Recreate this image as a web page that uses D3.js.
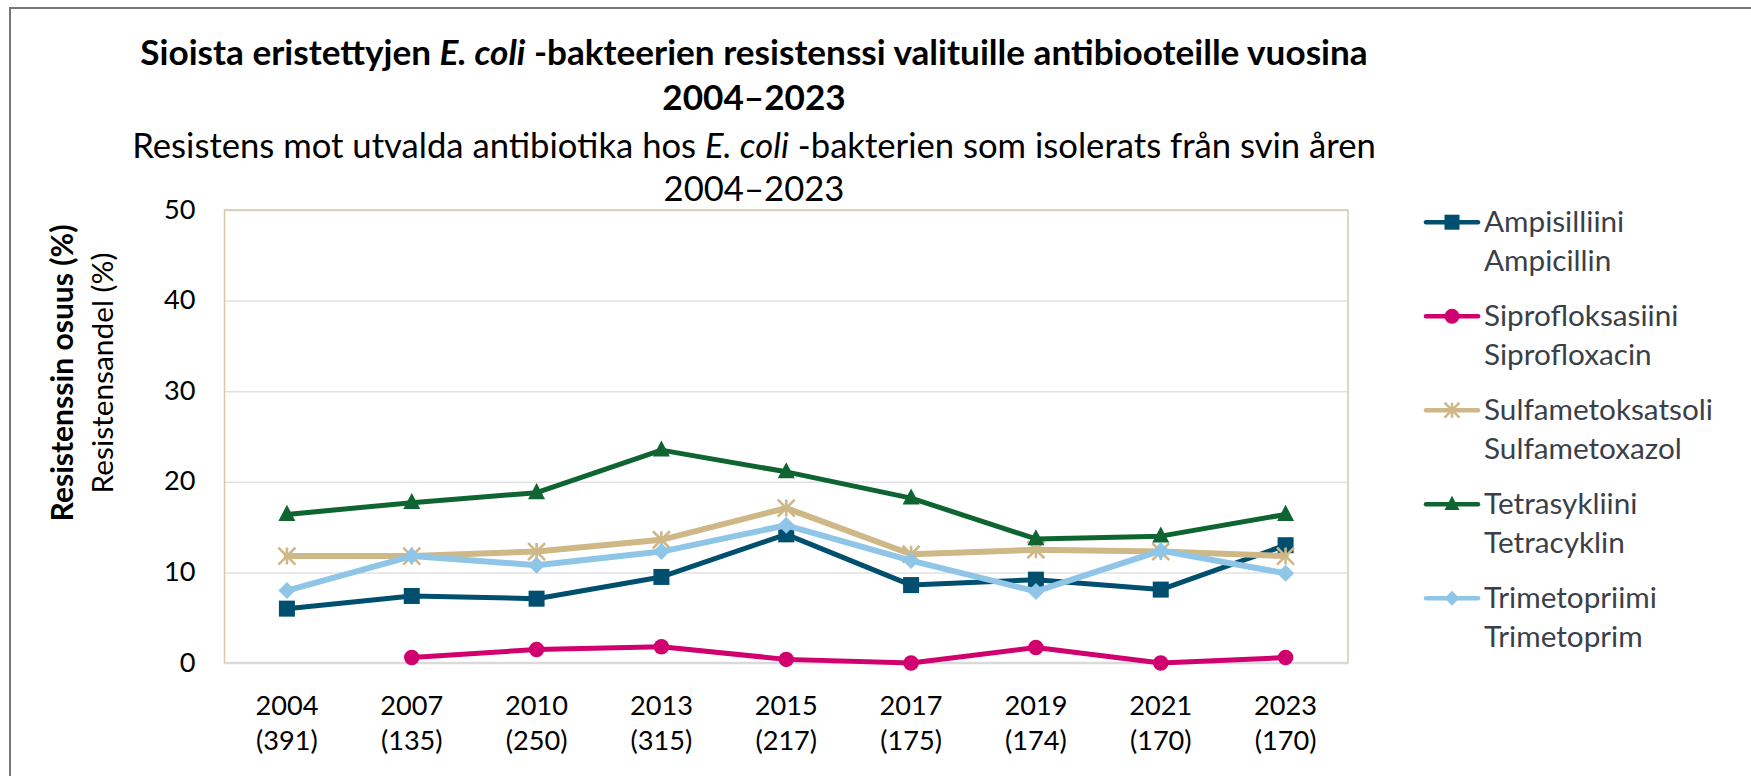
<!DOCTYPE html>
<html><head><meta charset="utf-8">
<script src="https://cdn.jsdelivr.net/npm/d3@7"></script>
<style>
body{margin:0;background:#fff}
svg{display:block}
text{font-family:Lato,"Noto Sans",sans-serif}
</style>
</head><body>
<svg id="c" width="1751" height="776"></svg>
<script>
// ---- data ----
const years = ["2004","2007","2010","2013","2015","2017","2019","2021","2023"];
const sampleSizes = ["(391)","(135)","(250)","(315)","(217)","(175)","(174)","(170)","(170)"];
const ampicillin       = [6.0, 7.4, 7.1, 9.5, 14.2, 8.6, 9.2, 8.1, 13.0];
const ciprofloxacin    = [null, 0.6, 1.5, 1.8, 0.4, 0.0, 1.7, 0.0, 0.6];
const sulfamethoxazole = [11.8, 11.8, 12.3, 13.6, 17.1, 12.0, 12.5, 12.3, 11.8];
const tetracycline     = [16.4, 17.7, 18.8, 23.5, 21.1, 18.2, 13.7, 14.0, 16.4];
const trimethoprim     = [8.0, 11.8, 10.8, 12.3, 15.2, 11.3, 7.9, 12.4, 9.9];
const yTicks = [0, 10, 20, 30, 40, 50];
const namesFi = ["Ampisilliini","Siprofloksasiini","Sulfametoksatsoli","Tetrasykliini","Trimetopriimi"];
const namesSv = ["Ampicillin","Siprofloxacin","Sulfametoxazol","Tetracyklin","Trimetoprim"];
const titleFi = ["Sioista eristettyjen ", "E. coli", " -bakteerien resistenssi valituille antibiooteille vuosina"];
const titleSv = ["Resistens mot utvalda antibiotika hos ", "E. coli", " -bakterien som isolerats från svin åren"];
const titleYears = "2004–2023";
const yTitleFi = "Resistenssin osuus (%)";
const yTitleSv = "Resistensandel (%)";

// ---- styles ----
const series = [
  {vals: ampicillin,       color:"#004f6f", width:5,   marker:"square"},
  {vals: ciprofloxacin,    color:"#d1006f", width:5,   marker:"circle"},
  {vals: sulfamethoxazole, color:"#cfb887", width:6,   marker:"star"},
  {vals: tetracycline,     color:"#0e6531", width:5,   marker:"triangle"},
  {vals: trimethoprim,     color:"#8fc6e7", width:6,   marker:"diamond"}
];

const svg = d3.select("#c");
svg.append("rect").attr("width",1751).attr("height",776).attr("fill","#fff");
svg.append("rect").attr("x",10).attr("y",8).attr("width",1800).attr("height",900)
  .attr("fill","none").attr("stroke","#76767e").attr("stroke-width",2);

const L = 224.5, R = 1348, T = 210, B = 663;
const x = d3.scaleBand().domain(years).range([L, R]).padding(0);
const cx = d => x(d) + x.bandwidth()/2;
const y = d3.scaleLinear().domain([0, 50]).range([B, T]);

function fit(sel, target, base){
  sel.attr("font-size", base);
  const w = sel.node().getComputedTextLength();
  const s = base * target / w;
  sel.attr("font-size", s);
  return s;
}

// measure tick font size: "2004" -> 63px wide
const probe = svg.append("text").text("2004");
const tickSize = fit(probe, 63, 30);
probe.remove();

// gridlines
const grid = svg.append("g").attr("transform",`translate(${L},0)`)
  .call(d3.axisLeft(y).tickValues(yTicks.filter(v=>v>0)).tickSize(-(R-L)).tickFormat(""));
grid.select(".domain").remove();
grid.selectAll("line").attr("stroke","#e2e2e4").attr("stroke-width",1.5);

// plot frame
svg.append("rect").attr("x",L).attr("y",T).attr("width",R-L).attr("height",B-T)
  .attr("fill","none").attr("stroke","#d8c9a4").attr("stroke-width",1.5);
svg.append("line").attr("x1",L).attr("x2",R+1).attr("y1",B).attr("y2",B)
  .attr("stroke","#d9d9de").attr("stroke-width",2.5);

// y axis labels
const yAx = svg.append("g").attr("transform",`translate(${L},0)`)
  .call(d3.axisLeft(y).tickValues(yTicks).tickSize(0).tickPadding(29));
yAx.select(".domain").remove();
yAx.selectAll("text").attr("font-size",tickSize).attr("fill","#000")
  .attr("font-family","Lato, 'Noto Sans', sans-serif").attr("dy","0.3em");

// x axis labels
const xAx = svg.append("g").attr("transform",`translate(0,${B})`)
  .call(d3.axisBottom(x).tickSize(0).tickFormat(""));
xAx.select(".domain").remove();
xAx.selectAll(".tick").each(function(d,i){
  const g = d3.select(this);
  g.select("text").remove();
  const t = g.append("text").attr("text-anchor","middle").attr("fill","#000")
    .attr("font-size",tickSize);
  t.append("tspan").attr("x",0).attr("y",52).text(years[i]);
  t.append("tspan").attr("x",0).attr("y",87).text(sampleSizes[i]);
});

// symbols
function drawMarker(g, type, color, px, py, s){
  if(type==="square"){
    g.append("rect").attr("x",px-s/2).attr("y",py-s/2).attr("width",s).attr("height",s).attr("fill",color);
  } else if(type==="circle"){
    g.append("circle").attr("cx",px).attr("cy",py).attr("r",s/2).attr("fill",color);
  } else if(type==="triangle"){
    const h = s*0.95;
    g.append("path").attr("d",`M${px},${py-h*0.6}L${px+s/2},${py+h*0.4}L${px-s/2},${py+h*0.4}Z`).attr("fill",color);
  } else if(type==="diamond"){
    const r = s/2;
    g.append("path").attr("d",`M${px},${py-r}L${px+r},${py}L${px},${py+r}L${px-r},${py}Z`).attr("fill",color);
  } else if(type==="star"){
    const r = s/2;
    g.append("path").attr("d",`M${px-r},${py-r}L${px+r},${py+r}M${px+r},${py-r}L${px-r},${py+r}M${px},${py-r}L${px},${py+r}`)
      .attr("stroke",color).attr("stroke-width",2.6).attr("fill","none");
  }
}
const markerSize = {square:16, circle:15.5, triangle:17, diamond:17, star:17};

const plot = svg.append("g");
series.forEach(s => {
  const pts = years.map((yr,i)=>({yr, v:s.vals[i]}));
  const line = d3.line().defined(d=>d.v!=null).x(d=>cx(d.yr)).y(d=>y(d.v));
  plot.append("path").datum(pts).attr("d",line).attr("fill","none")
    .attr("stroke",s.color).attr("stroke-width",s.width).attr("stroke-linejoin","round").attr("stroke-linecap","round");
  const mg = plot.append("g");
  pts.filter(d=>d.v!=null).forEach(d=>drawMarker(mg, s.marker, s.color, cx(d.yr), y(d.v), markerSize[s.marker]));
});

// titles
const t1 = svg.append("text").attr("x",754).attr("y",65).attr("text-anchor","middle").attr("font-weight","bold").attr("fill","#000");
t1.append("tspan").text(titleFi[0]);
t1.append("tspan").attr("font-style","italic").text(titleFi[1]);
t1.append("tspan").text(titleFi[2]);
const tSize = fit(t1, 1228, 36);
svg.append("text").attr("x",754).attr("y",110).attr("text-anchor","middle").attr("font-weight","bold")
  .attr("font-size",tSize).attr("fill","#000").text(titleYears);

const t2 = svg.append("text").attr("x",754).attr("y",158).attr("text-anchor","middle").attr("fill","#000");
t2.append("tspan").text(titleSv[0]);
t2.append("tspan").attr("font-style","italic").text(titleSv[1]);
t2.append("tspan").text(titleSv[2]);
const sSize = fit(t2, 1244, 36);
svg.append("text").attr("x",754).attr("y",201).attr("text-anchor","middle")
  .attr("font-size",sSize).attr("fill","#000").text(titleYears);

// y axis titles
const yt1 = svg.append("text").attr("transform","translate(73,373) rotate(-90)")
  .attr("text-anchor","middle").attr("font-weight","bold").attr("fill","#000").text(yTitleFi);
fit(yt1, 297, 32);
const yt2 = svg.append("text").attr("transform","translate(112.5,373) rotate(-90)")
  .attr("text-anchor","middle").attr("fill","#000").text(yTitleSv);
fit(yt2, 241, 32);

// legend
const lp = svg.append("text").text("Sulfametoksatsoli");
const legSize = fit(lp, 229, 31);
lp.remove();
const leg = svg.append("g");
series.forEach((s,i)=>{
  const by = 231.7 + i*94;
  const ly = by - 9.5;
  const g = leg.append("g");
  g.append("line").attr("x1",1426).attr("x2",1478).attr("y1",ly).attr("y2",ly)
    .attr("stroke",s.color).attr("stroke-width",4.5).attr("stroke-linecap","round");
  drawMarker(g, s.marker, s.color, 1452, ly, 15);
  const t = g.append("text").attr("fill","#3a3f48").attr("font-size",legSize);
  t.append("tspan").attr("x",1484).attr("y",by).text(namesFi[i]);
  t.append("tspan").attr("x",1484).attr("y",by+39).text(namesSv[i]);
});
</script>
</body></html>
